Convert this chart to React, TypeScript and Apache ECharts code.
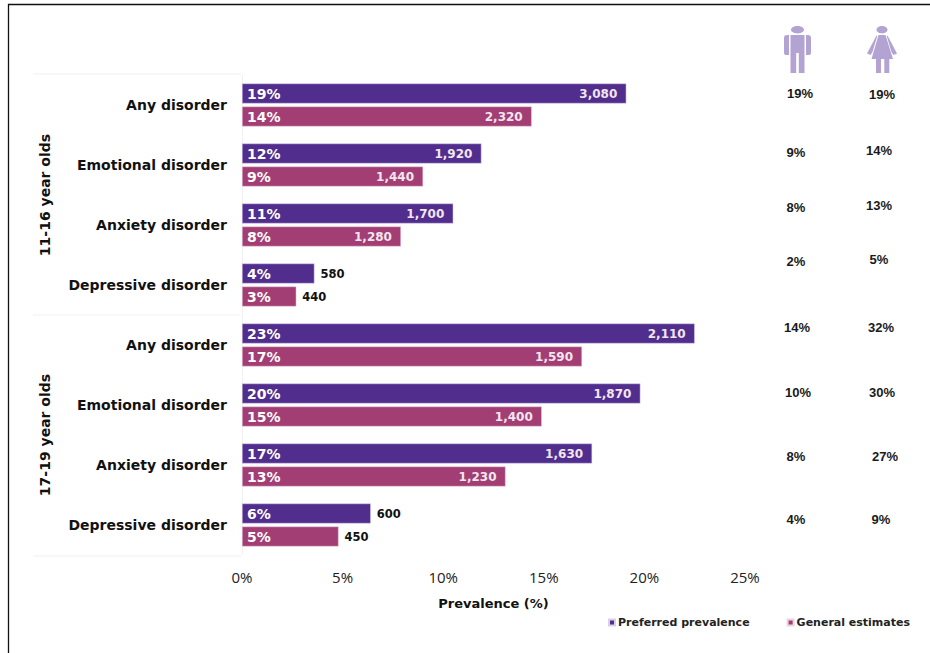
import React, { useEffect, useRef } from "react";
import * as echarts from "echarts";

const categories = [
  "Any disorder", "Emotional disorder", "Anxiety disorder", "Depressive disorder",
  "Any disorder", "Emotional disorder", "Anxiety disorder", "Depressive disorder",
];
const preferredValues = [19.1, 11.9, 10.5, 3.6, 22.5, 19.8, 17.4, 6.4];
const generalValues = [14.4, 9.0, 7.9, 2.7, 16.9, 14.9, 13.1, 4.8];
const preferredPct = ["19%", "12%", "11%", "4%", "23%", "20%", "17%", "6%"];
const generalPct = ["14%", "9%", "8%", "3%", "17%", "15%", "13%", "5%"];
const preferredCounts = ["3,080", "1,920", "1,700", "580", "2,110", "1,870", "1,630", "600"];
const generalCounts = ["2,320", "1,440", "1,280", "440", "1,590", "1,400", "1,230", "450"];
const malePct = ["19%", "9%", "8%", "2%", "14%", "10%", "8%", "4%"];
const femalePct = ["19%", "14%", "13%", "5%", "32%", "30%", "27%", "9%"];
const maleX = [800, 796, 796, 796, 797, 798, 796, 796];
const maleY = [93, 152, 207, 261, 327, 392, 456, 519];
const femaleX = [882, 879, 879, 879, 881, 882, 885, 881];
const femaleY = [94, 150, 205, 259, 327, 392, 456, 519];
const tickStep = 5;
const outsideBelow = 5;

const PURPLE = "#512d8e";
const PINK = "#a23e74";
const FONT = "'DejaVu Sans', sans-serif";

const MAN = "M13.5 0C17 0 20 1.7 20 3.7C20 5.7 17 7.4 13.5 7.4C10 7.4 7 5.7 7 3.7C7 1.7 10 0 13.5 0Z" +
  "M0 12Q0 9 3 9H5V29H2Q0 29 0 27Z" +
  "M6.5 9H20.5V47H14.8V27H12.2V47H6.5Z" +
  "M22 9H24Q27 9 27 12V27Q27 29 25 29H22Z";
const WOMAN = "M15 0C18 0 20.5 1.7 20.5 3.7C20.5 5.7 18 7.4 15 7.4C12 7.4 9.5 5.7 9.5 3.7C9.5 1.7 12 0 15 0Z" +
  "M11.5 9H18.5L26 33H22.3V47H17.3V33H14V47H9V33H4.5Z" +
  "M9.5 9.5L10.3 10L5.5 26L3.5 29L0 27.5Z" +
  "M20.5 9.5L19.7 10L24.5 26L26.5 29L30 27.5Z";
echarts.graphic.registerShape("manIcon", echarts.graphic.extendPath(MAN, {}) as any);
echarts.graphic.registerShape("womanIcon", echarts.graphic.extendPath(WOMAN, {}) as any);

function countData(values: number[], counts: string[]) {
  return values.map((v, i) => {
    const outside = v < outsideBelow || (i === 7);
    return {
      value: v,
      label: {
        formatter: counts[i],
        position: outside ? "right" : "insideRight",
        distance: outside ? 6 : 9,
        color: outside ? "#111" : "#f2e6ee",
        fontSize: outside ? 11.5 : 12,
      },
    };
  });
}

function pctSeries(values: number[], labels: string[]) {
  return {
    type: "bar",
    yAxisIndex: 1,
    barWidth: 20,
    barGap: "15%",
    silent: true,
    itemStyle: { color: "transparent" },
    data: values.map((v, i) => ({ value: v, label: { formatter: labels[i] } })),
    label: {
      show: true,
      position: "insideLeft",
      distance: 5,
      color: "#fff",
      fontFamily: FONT,
      fontWeight: "bold",
      fontSize: 14,
    },
  };
}

const pctText = (text: string, x: number, y: number) => ({
  type: "text",
  x,
  y,
  style: {
    text,
    font: "bold 13px 'Liberation Sans', Arial, sans-serif",
    fill: "#1a1a1a",
    textAlign: "center",
    textVerticalAlign: "middle",
  },
});

const groupText = (text: string, x: number, y: number) => ({
  type: "text",
  x,
  y,
  rotation: Math.PI / 2,
  style: {
    text,
    font: `bold 14px ${FONT}`,
    fill: "#111",
    textAlign: "center",
    textVerticalAlign: "middle",
  },
});

const sepLine = (y: number) => ({
  type: "line",
  shape: { x1: 33, y1: y, x2: 241, y2: y },
  style: { stroke: "#f1f1f1", lineWidth: 1 },
});

export default function App() {
  const ref = useRef<HTMLDivElement>(null);
  useEffect(() => {
    const chart = echarts.init(ref.current!, null, { renderer: "svg" });
    const barCommon = {
      type: "bar",
      barWidth: 20,
      barGap: "15%",
      label: {
        show: true,
        fontFamily: FONT,
        fontWeight: "bold",
      },
    };
    chart.setOption({
      animation: false,
      backgroundColor: "#fff",
      grid: { left: 242, right: 185, top: 75, bottom: 98 },
      legend: {
        left: 603,
        top: 612,
        itemWidth: 6,
        itemHeight: 6,
        itemGap: 37,
        icon: "rect",
        data: ["Preferred prevalence", "General estimates"],
        textStyle: { fontFamily: FONT, fontWeight: "bold", fontSize: 11, color: "#222", padding: [0, 0, 0, -2] },
      },
      xAxis: {
        type: "value",
        min: 0,
        max: 25,
        interval: tickStep,
        name: "Prevalence (%)",
        nameLocation: "middle",
        nameGap: 42,
        nameTextStyle: { fontFamily: FONT, fontWeight: "bold", fontSize: 13, color: "#111" },
        axisLine: { show: false },
        axisTick: { show: false },
        splitLine: { show: false },
        axisLabel: {
          formatter: "{value}%",
          margin: 14,
          fontFamily: "'Open Sans', sans-serif",
          fontSize: 15,
          color: "#222",
        },
      },
      yAxis: [
        {
          type: "category",
          inverse: true,
          data: categories,
          axisLine: { lineStyle: { color: "#f1f1f1" } },
          axisTick: { show: false },
          axisLabel: {
            margin: 15,
            fontFamily: FONT,
            fontWeight: "bold",
            fontSize: 14,
            color: "#111",
          },
        },
        {
          type: "category",
          inverse: true,
          data: categories,
          show: false,
        },
      ],
      series: [
        {
          ...barCommon,
          name: "Preferred prevalence",
          itemStyle: { color: PURPLE, borderColor: "#d9d0e8", borderWidth: 0.5 },
          data: countData(preferredValues, preferredCounts),
        },
        {
          ...barCommon,
          name: "General estimates",
          itemStyle: { color: PINK, borderColor: "#ecd3e1", borderWidth: 0.5 },
          data: countData(generalValues, generalCounts),
        },
        pctSeries(preferredValues, preferredPct),
        pctSeries(generalValues, generalPct),
      ],
      graphic: [
        { type: "rect", shape: { x: 8.5, y: 4.5, width: 940, height: 670 }, style: { fill: "none", stroke: "#111", lineWidth: 1.3 } },
        sepLine(74),
        sepLine(315),
        sepLine(556),
        groupText("11-16 year olds", 45, 195),
        groupText("17-19 year olds", 45, 435),
        { type: "manIcon", x: 784, y: 26, style: { fill: "#b3a3d2" } },
        { type: "womanIcon", x: 867, y: 26, style: { fill: "#b3a3d2" } },
        ...malePct.map((t, i) => pctText(t, maleX[i], maleY[i])),
        ...femalePct.map((t, i) => pctText(t, femaleX[i], femaleY[i])),
      ],
    });
    return () => chart.dispose();
  }, []);
  return <div ref={ref} style={{ position: "fixed", left: 0, top: 0, width: 930, height: 653 }} />;
}
